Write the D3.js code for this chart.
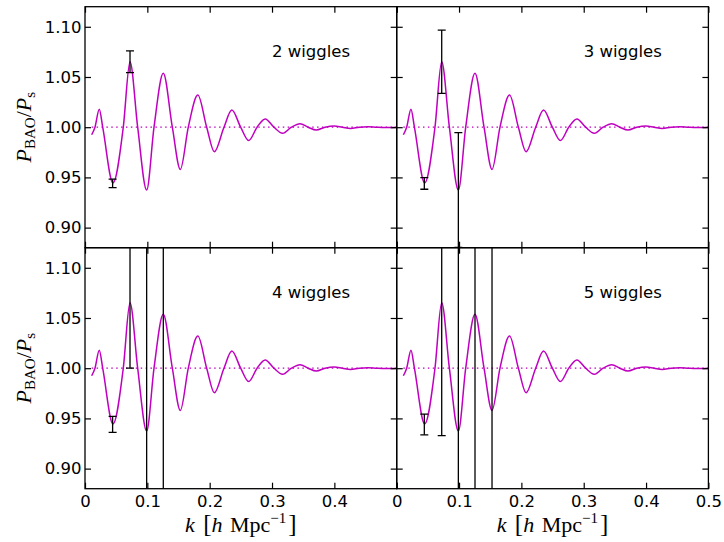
<!DOCTYPE html>
<html>
<head>
<meta charset="utf-8">
<script src="https://cdn.jsdelivr.net/npm/d3@7"></script>
<style>
    body { margin: 0; background: #fff; }
    svg { display: block; }
</style>
</head>
<body>
<svg id="chart" width="724" height="542"></svg>
<script>
// BAO wiggle ratio curve (extrema + crossings)
const kCurve = [0.0107, 0.016, 0.0229, 0.0284, 0.0449, 0.0614, 0.0722, 0.0845, 0.0989, 0.1107,
    0.1256, 0.1401, 0.1529, 0.1657, 0.181, 0.1952, 0.2075, 0.2229, 0.2355, 0.2497,
    0.2625, 0.276, 0.289, 0.303, 0.317, 0.331, 0.345, 0.358, 0.371, 0.385,
    0.400, 0.413, 0.426, 0.44, 0.454, 0.468, 0.481, 0.5];
const ratioCurve = [0.9925, 1.000, 1.0178, 1.000, 0.9445, 1.000, 1.0652, 1.000, 0.9374, 1.000,
    1.0537, 1.000, 0.958, 1.000, 1.032, 1.000, 0.9756, 1.000, 1.0171, 1.000,
    0.9867, 1.000, 1.0082, 1.000, 0.9939, 1.000, 1.0035, 1.000, 0.9972, 1.000,
    1.0013, 1.000, 0.9987, 1.000, 1.0005, 1.000, 0.9997, 1.000];

// measured points at the wiggle extrema
const kPoints = [0.0443, 0.0722, 0.0989, 0.1256, 0.1529];
const ratioPoints = [0.944, 1.0652, 0.9374, 1.0537, 0.958];

// error bars for each panel (one per point used)
const errors2 = [0.0042, 0.0108];
const errors3 = [0.0058, 0.0315, 0.0571];
const errors4 = [0.008, 0.0652, 0.5, 0.5];
const errors5 = [0.0103, 0.1324, 0.5, 0.5, 0.5];

const panelLabels = ['2 wiggles', '3 wiggles', '4 wiggles', '5 wiggles'];
const xTicks = [0, 0.1, 0.2, 0.3, 0.4, 0.5];
const yTicks = [0.90, 0.95, 1.00, 1.05, 1.10];

const panelErrors = [errors2, errors3, errors4, errors5];

const svg = d3.select('#chart');

const marginLeft = 85, marginTop = 6.7;
const pw = 311.7, ph = 241;
const magenta = '#bf00bf';
const tickFont = "'DejaVu Sans', sans-serif";
const mathFont = "'Liberation Serif', 'DejaVu Serif', serif";

const x = d3.scaleLinear().domain([0, 0.5]).range([0, pw]);
const y = d3.scaleLinear().domain([0.88, 1.12]).range([ph, 0]);

const line = d3.line()
    .x((d, i) => x(kCurve[i]))
    .y(d => y(d))
    .curve(d3.curveMonotoneX);

panelLabels.forEach((label, p) => {
    const col = p % 2, row = Math.floor(p / 2);
    const g = svg.append('g')
        .attr('transform', `translate(${marginLeft + col * pw},${marginTop + row * ph})`);

    g.append('clipPath').attr('id', 'clip' + p)
        .append('rect').attr('width', pw).attr('height', ph);

    // dotted reference line at 1
    g.append('line')
        .attr('x1', x(kCurve[0])).attr('x2', x(0.5))
        .attr('y1', y(1)).attr('y2', y(1))
        .attr('stroke', magenta)
        .attr('stroke-width', 1.3)
        .attr('stroke-dasharray', '1.5,3.4');

    g.append('path')
        .attr('d', line(ratioCurve))
        .attr('fill', 'none')
        .attr('stroke', magenta)
        .attr('stroke-width', 1.5);

    // error bars
    const eb = g.append('g').attr('clip-path', `url(#clip${p})`)
        .attr('stroke', '#000').attr('stroke-width', 1.3);
    panelErrors[p].forEach((e, i) => {
        const cx = x(kPoints[i]);
        const y1 = y(ratioPoints[i] + e), y2 = y(ratioPoints[i] - e);
        eb.append('line').attr('x1', cx).attr('x2', cx).attr('y1', y1).attr('y2', y2);
        [y1, y2].forEach(cy => {
            eb.append('line').attr('x1', cx - 4).attr('x2', cx + 4).attr('y1', cy).attr('y2', cy);
        });
    });

    // axes, ticks pointing inward on all four sides
    const yLeft = d3.axisLeft(y).tickValues(yTicks).tickSizeInner(-6).tickSizeOuter(0).tickPadding(3.5)
        .tickFormat(col === 0 ? d3.format('.2f') : () => '');
    const yRight = d3.axisRight(y).tickValues(yTicks).tickSizeInner(-6).tickSizeOuter(0).tickFormat(() => '');
    const xTop = d3.axisTop(x).tickValues(xTicks).tickSizeInner(-6).tickSizeOuter(0).tickFormat(() => '');
    const xBottom = d3.axisBottom(x).tickValues(xTicks).tickSizeInner(-6).tickSizeOuter(0).tickPadding(7)
        .tickFormat(d => {
            if (row === 0) return '';
            if (col === 0 && d === 0.5) return '';
            return d === 0 ? '0' : d3.format('.1f')(d);
        });

    const axes = [
        g.append('g').call(yLeft),
        g.append('g').attr('transform', `translate(${pw},0)`).call(yRight),
        g.append('g').call(xTop),
        g.append('g').attr('transform', `translate(0,${ph})`).call(xBottom)
    ];
    axes.forEach(a => {
        a.select('.domain').remove();
        a.selectAll('line').attr('stroke', '#000').attr('stroke-width', 1.2);
        a.selectAll('text').attr('font-family', tickFont).attr('font-size', 16.5).attr('fill', '#000');
    });

    g.append('rect')
        .attr('width', pw).attr('height', ph)
        .attr('fill', 'none').attr('stroke', '#000').attr('stroke-width', 1.3);

    g.append('text')
        .attr('x', x(0.3)).attr('y', y(1.07))
        .attr('font-family', tickFont).attr('font-size', 16.5)
        .text(label);
});

// y axis labels
[0, 1].forEach(row => {
    const t = svg.append('text')
        .attr('transform', `translate(31,${marginTop + row * ph + ph / 2}) rotate(-90)`)
        .attr('text-anchor', 'middle')
        .attr('font-family', mathFont).attr('font-size', 22);
    t.append('tspan').attr('font-style', 'italic').text('P');
    t.append('tspan').attr('font-size', 15).attr('dy', 4).text('BAO');
    t.append('tspan').attr('dy', -4).text('/');
    t.append('tspan').attr('font-style', 'italic').text('P');
    t.append('tspan').attr('font-size', 15).attr('dy', 4).text('s');
});

// x axis labels
[0, 1].forEach(col => {
    const t = svg.append('text')
        .attr('x', marginLeft + col * pw + pw / 2).attr('y', 532)
        .attr('text-anchor', 'middle')
        .attr('font-family', mathFont).attr('font-size', 22);
    t.append('tspan').attr('font-style', 'italic').text('k');
    t.append('tspan').attr('font-size', 25).attr('dx', 2).text(' [');
    t.append('tspan').attr('font-style', 'italic').text('h');
    t.append('tspan').attr('dx', 2).text(' Mpc');
    t.append('tspan').attr('font-size', 15).attr('dy', -9).text('\u22121');
    t.append('tspan').attr('font-size', 25).attr('dy', 9).attr('dx', 2).text(']');
});
</script>
</body>
</html>
